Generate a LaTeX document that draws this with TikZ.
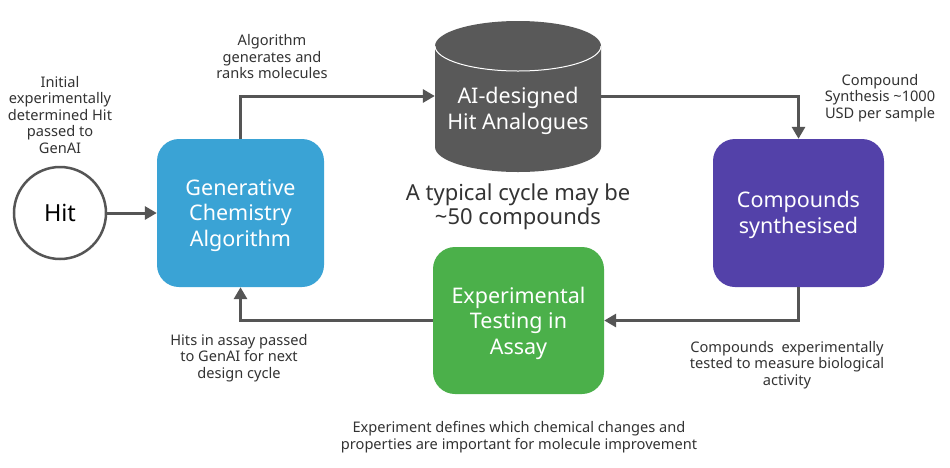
\documentclass[tikz,border=0pt]{standalone}
\usepackage{fontspec}
\setmainfont{Noto Sans}
\usetikzlibrary{arrows.meta}
\definecolor{algblue}{HTML}{3AA3D5}
\definecolor{synpurple}{HTML}{5341A9}
\definecolor{expgreen}{HTML}{4BB04A}
\definecolor{cylgray}{HTML}{595959}
\definecolor{arrgray}{HTML}{555555}
\definecolor{txtgray}{HTML}{333333}
\begin{document}
\begin{tikzpicture}[x=1pt,y=-1pt,
  box/.style={rounded corners=22pt, minimum width=167pt, minimum height=148pt, inner sep=0pt},
  boxtxt/.style={text=white, font=\fontsize{21.5}{25.5}\selectfont, align=center, inner sep=0pt},
  lbl/.style={text=txtgray, font=\fontsize{14.6}{16.5}\selectfont, align=center, inner sep=0pt},
  big/.style={text=txtgray, font=\fontsize{22}{24.5}\selectfont, align=center, inner sep=0pt},
  conn/.style={draw=arrgray, line width=3pt, -{Triangle[length=12pt,width=13pt]}}]
\useasboundingbox[fill=white] (0,0) rectangle (950,467);

% Hit circle
\node[circle, draw=arrgray, line width=2.5pt, minimum size=92pt, inner sep=0pt,
  font=\fontsize{23.5}{26}\selectfont] (hit) at (60,213) {Hit};

% boxes
\node[box, fill=algblue] (alg) at (240.5,213) {};
\node[boxtxt] (algtxt) at (240.5,215.5) {Generative\\Chemistry\\Algorithm};
\node[box, fill=synpurple, minimum width=171pt] (syn) at (798.5,213) {};
\node[boxtxt] (syntxt) at (798.5,215) {Compounds\\synthesised};
\node[box, fill=expgreen, minimum width=171pt, minimum height=147pt] (exp) at (518.5,320.5) {};
\node[boxtxt] (exptxt) at (518.5,323) {Experimental\\Testing in\\Assay};

% cylinder
\fill[cylgray] (435,46) -- (435,147)
  arc[start angle=180, end angle=0, x radius=83, y radius=25] -- (601,46)
  arc[start angle=0, end angle=-180, x radius=83, y radius=25] -- cycle;
\draw[white, line width=1pt] (435,46) arc[start angle=180, end angle=0, x radius=83, y radius=25];
\node[minimum width=166pt, minimum height=100pt, inner sep=0pt] (cyl) at (518,96) {};
\node[boxtxt] (cyltxt) at (518,111) {AI-designed\\Hit Analogues};

% connectors
\draw[conn] (hit) -- (alg);
\draw[conn] (alg.north) |- (cyl.west);
\draw[conn] (cyl.east) -| (syn.north);
\draw[conn] (syn.south) |- (exp.east);
\draw[conn] (exp.west) -| (alg.south);

% labels
\node[lbl] (l1) at (60,115) {Initial\\experimentally\\determined Hit\\passed to\\GenAI};
\node[lbl] (l2) at (272,57) {Algorithm\\generates and\\ranks molecules};
\node[lbl] (l3) at (880,98) {Compound\\Synthesis \textasciitilde1000\\USD per sample};
\node[lbl] (l4) at (787,365) {Compounds\ \ experimentally\\tested to measure biological\\activity};
\node[lbl] (l5) at (239,358) {Hits in assay passed\\to GenAI for next\\design cycle};
\node[lbl] (l6) at (519,437) {Experiment defines which chemical changes and\\properties are important for molecule improvement};
\node[big] (cyc) at (518,207) {A typical cycle may be\\\textasciitilde50 compounds};
\end{tikzpicture}
\end{document}
